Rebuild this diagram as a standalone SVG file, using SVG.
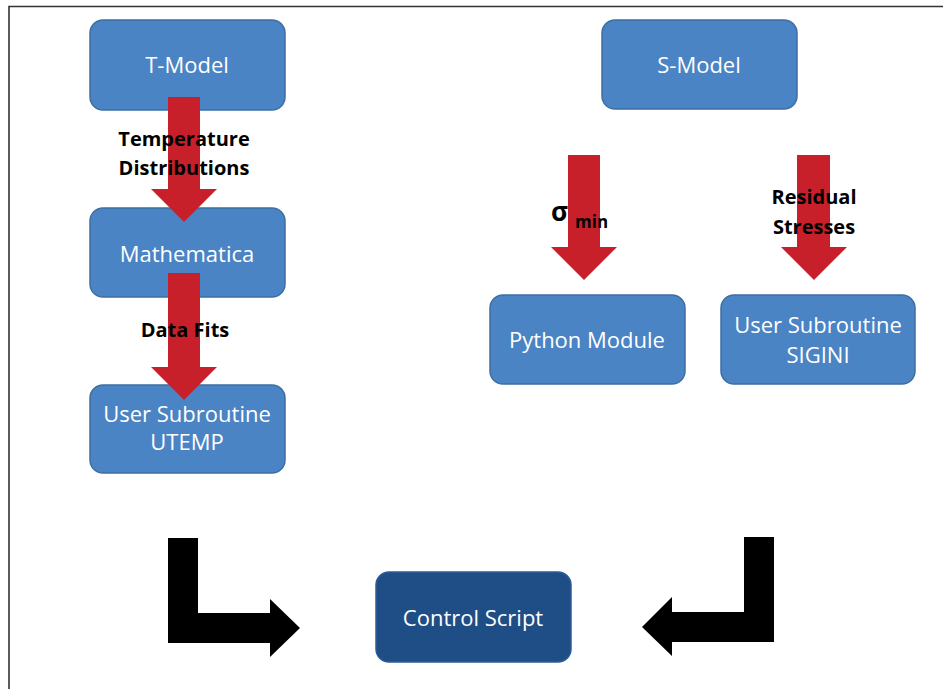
<svg xmlns="http://www.w3.org/2000/svg" width="943" height="689" viewBox="0 0 943 689">
<style>
.box{fill:#4a84c4;stroke:#3d6fa3;stroke-width:1.5}
.dark{fill:#1f4e86;stroke:#2c5d96;stroke-width:1.5}
.t{font-family:"Open Sans","Liberation Sans",sans-serif;font-size:22px;fill:#ffffff;text-anchor:middle}
.lbl{font-family:"Open Sans","Liberation Sans",sans-serif;font-size:20px;font-weight:bold;fill:#000000;text-anchor:middle}
.red{fill:#c8202a}
.blk{fill:#000000}
</style>
<rect width="943" height="689" fill="#ffffff"/>
<path d="M9,689 V6.5 H943" fill="none" stroke="#333333" stroke-width="1.6"/>
<g id="t-model"><rect class="box" x="90" y="20" width="195" height="90" rx="13"/><text class="t" x="187" y="73">T-Model</text></g>
<g id="mathematica"><rect class="box" x="90" y="208" width="195" height="89" rx="13"/><text class="t" x="187" y="262">Mathematica</text></g>
<g id="utemp"><rect class="box" x="90" y="385" width="195" height="88" rx="13"/><text class="t" x="187" y="422">User Subroutine</text><text class="t" x="187" y="450">UTEMP</text></g>
<g id="s-model"><rect class="box" x="602" y="20" width="195" height="89" rx="13"/><text class="t" x="699" y="73">S-Model</text></g>
<g id="python"><rect class="box" x="490" y="295" width="195" height="89" rx="13"/><text class="t" x="587" y="348">Python Module</text></g>
<g id="sigini"><rect class="box" x="721" y="295" width="194" height="89" rx="13"/><text class="t" x="818" y="333">User Subroutine</text><text class="t" x="818" y="363">SIGINI</text></g>
<g id="control"><rect class="dark" x="376" y="572" width="195" height="90" rx="13"/><text class="t" x="473" y="626">Control Script</text></g>
<g id="connectors">
  <polygon class="red" points="168,97 200,97 200,189 217,189 184,222 151,189 168,189"/>
  <polygon class="red" points="168,273 200,273 200,367 217,367 184,400 151,367 168,367"/>
  <polygon class="red" points="568,155 600,155 600,247 617,247 584,280 551,247 568,247"/>
  <polygon class="red" points="797,155 830,155 830,247 847,247 814,280 781,247 797,247"/>
  <polygon class="blk" points="168,538 198,538 198,613 270,613 270,599 300,628 270,657 270,643 168,643"/>
  <polygon class="blk" points="744,537 774,537 774,642 672,642 672,656 642,627 672,597 672,612 744,612"/>
  <text class="lbl" x="184" y="146">Temperature</text>
  <text class="lbl" x="184" y="175">Distributions</text>
  <text class="lbl" x="185" y="337">Data Fits</text>
  <text class="lbl" x="814" y="204">Residual</text>
  <text class="lbl" x="814" y="234">Stresses</text>
  <text class="lbl" x="551" y="221" style="text-anchor:start;font-size:26px">σ</text>
  <text class="lbl" x="575" y="228" style="text-anchor:start;font-size:17px">min</text>
</g>
</svg>
